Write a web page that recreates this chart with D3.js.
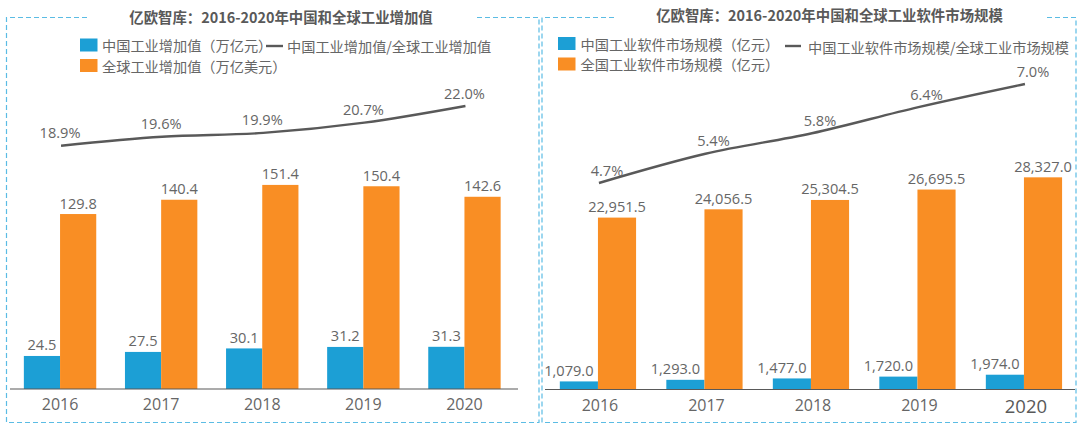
<!DOCTYPE html>
<html><head><meta charset="utf-8">
<script src="https://cdn.jsdelivr.net/npm/d3@7/dist/d3.min.js"></script>
<style>html,body{margin:0;padding:0;background:#fff}svg{display:block}
text{font-family:"Open Sans","Noto Sans CJK SC",sans-serif;fill:#666}
.cjk{font-family:"Noto Sans CJK SC",sans-serif}</style></head><body>
<svg id="c" width="1080" height="427"></svg>
<script>
const years = ["2016","2017","2018","2019","2020"];
const leftChina = [24.5,27.5,30.1,31.2,31.3];
const leftGlobal = [129.8,140.4,151.4,150.4,142.6];
const leftShare = [18.9,19.6,19.9,20.7,22.0];
const rightChina = [1079,1293,1477,1720,1974];
const rightGlobal = [22951.5,24056.5,25304.5,26695.5,28327];
const rightShare = [4.70,5.37,5.84,6.44,6.97];
const leftTitle = "亿欧智库：2016-2020年中国和全球工业增加值";
const rightTitle = "亿欧智库：2016-2020年中国和全球工业软件市场规模";
const leftLegend = ["中国工业增加值（万亿元）","全球工业增加值（万亿美元）","中国工业增加值/全球工业增加值"];
const rightLegend = ["中国工业软件市场规模（亿元）","全国工业软件市场规模（亿元）","中国工业软件市场规模/全球工业市场规模"];
const BLUE="#1c9fd5", ORANGE="#f98e24", LINE="#595959", FRAME="#5bbce4";
const svg=d3.select("#c");

function panel(o){
  const g=svg.append("g");
  const f=o.frame;
  const framePath=d3.path();
  framePath.moveTo(f.gapL,f.t);framePath.lineTo(f.l,f.t);framePath.lineTo(f.l,f.b);
  framePath.lineTo(f.r,f.b);framePath.lineTo(f.r,f.t);framePath.lineTo(f.gapR,f.t);
  g.append("path").attr("d",framePath.toString()).attr("fill","none").attr("stroke",FRAME)
    .attr("stroke-width",1.2).attr("stroke-dasharray","5 3");
  g.append("text").attr("class","cjk").attr("x",o.titleX).attr("y",o.titleY).attr("text-anchor","middle")
    .attr("dominant-baseline","central").attr("font-size",14.4).attr("font-weight",700).style("fill","#595959").text(o.title);

  const x=d3.scaleBand().domain(years).range(o.xRange).paddingInner(0.284).paddingOuter(0.142);
  const x1=d3.scaleBand().domain([0,1]).range([0,x.bandwidth()]);
  const yBar=d3.scaleLinear().domain([0,o.barMax]).range([o.base,o.barTop]);
  const yLine=d3.scaleLinear().domain(o.shareDomain).range(o.shareRange);

  [[o.china,0,BLUE,o.chinaDx],[o.global,1,ORANGE,0]].forEach(([vals,i,col,dx])=>{
    g.selectAll(null).data(vals).join("rect")
      .attr("x",(d,k)=>x(years[k])+x1(i)).attr("width",x1.bandwidth())
      .attr("y",d=>yBar(d)).attr("height",d=>o.base-yBar(d)).attr("fill",col);
    g.selectAll(null).data(vals).join("text")
      .attr("x",(d,k)=>x(years[k])+x1(i)+x1.bandwidth()/2+dx).attr("y",d=>yBar(d)-11.5)
      .attr("text-anchor","middle").attr("dominant-baseline","central").attr("font-size",14.6)
      .text(d3.format(o.fmt));
  });

  const cx=k=>x(years[k])+x.bandwidth()/2+1;
  const line=d3.line().x((d,k)=>cx(k)).y(d=>yLine(d)).curve(d3.curveMonotoneX);
  g.append("path").datum(o.share).attr("d",line).attr("fill","none").attr("stroke",LINE).attr("stroke-width",2.4);
  g.selectAll(null).data(o.share).join("text")
    .attr("x",(d,k)=>cx(k)+o.shareDx).attr("y",d=>yLine(d)-13.5)
    .attr("text-anchor","middle").attr("dominant-baseline","central").attr("font-size",14.6)
    .text(d=>d3.format(".1f")(d)+"%");

  const axis=d3.axisBottom(x).tickSize(0).tickPadding(0);
  const ax=g.append("g").attr("transform",`translate(0,${o.base})`).call(axis);
  ax.select(".domain").attr("d",`M${o.axis[0]},0H${o.axis[1]}`).attr("stroke","#595959").attr("stroke-width",1.2);
  ax.selectAll("text").attr("x",o.tickDx).attr("y",15).attr("dy",null).attr("dominant-baseline","central")
    .attr("font-size",16).attr("font-family",null).style("fill","#666");
  if(o.bigLast){
    ax.selectAll(".tick").filter(d=>d==="2020").select("text").attr("font-size",18.5).attr("y",16).style("fill","#595959");
  }

  const L=o.legend;
  [[BLUE,L.y1,o.legendText[0]],[ORANGE,L.y2,o.legendText[1]]].forEach(([c,y,t])=>{
    g.append("rect").attr("x",L.sx).attr("y",y-6.5).attr("width",17.5).attr("height",13).attr("fill",c);
    g.append("text").attr("class","cjk").attr("x",L.tx).attr("y",y).attr("dominant-baseline","central")
      .attr("font-size",14.2).text(t);
  });
  g.append("line").attr("x1",L.lx1).attr("x2",L.lx2).attr("y1",L.ly).attr("y2",L.ly).attr("stroke",LINE).attr("stroke-width",2.4);
  g.append("text").attr("class","cjk").attr("x",L.ltx).attr("y",L.lty).attr("dominant-baseline","central")
    .attr("font-size",14.2).text(o.legendText[2]);
}

panel({frame:{l:6.5,r:539,t:17.5,b:422.5,gapL:87,gapR:477},title:leftTitle,titleX:281,titleY:16,
  xRange:[9.5,515],china:leftChina,global:leftGlobal,share:leftShare,base:389,
  barMax:160,barTop:389-160*1.348,shareDomain:[18.9,22.0],shareRange:[145.7,106],
  fmt:",.1f",chinaDx:0,shareDx:-1,tickDx:0,axis:[10,518],
  legend:{sx:80,tx:102,y1:45,y2:65.5,lx1:266,lx2:283,ly:46,lty:45.5,ltx:287},legendText:leftLegend});
panel({frame:{l:542,r:1076,t:17.5,b:422.5,gapL:614,gapR:1047},title:rightTitle,titleX:829.5,titleY:14,
  xRange:[544.7,1077.2],china:rightChina,global:rightGlobal,share:rightShare,base:389.5,
  barMax:30000,barTop:389.5-30000*0.00749,shareDomain:[4.70,6.97],shareRange:[183,84],
  fmt:",.1f",chinaDx:-10,shareDx:8,tickDx:2,axis:[545,1075],bigLast:true,
  legend:{sx:558,tx:580.5,y1:43.5,y2:64,lx1:785,lx2:801,ly:46,lty:46.5,ltx:808},legendText:rightLegend});
</script></body></html>
